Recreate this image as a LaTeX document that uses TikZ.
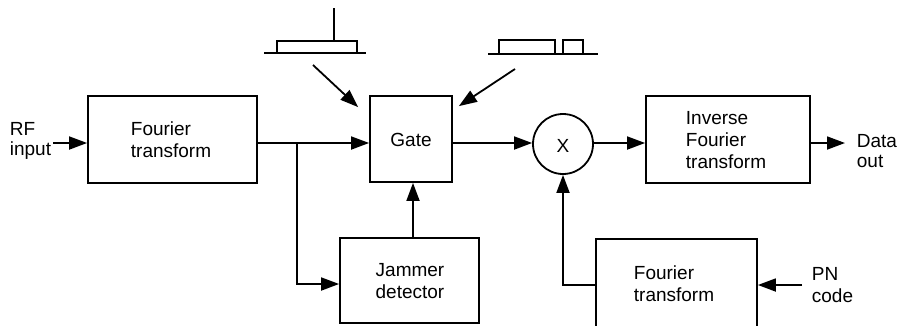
\documentclass[tikz,border=0pt]{standalone}
\usepackage{fontspec}
\setmainfont{Liberation Sans}
\usetikzlibrary{arrows.meta,calc}
\begin{document}
\begin{tikzpicture}[x=1pt,y=-1pt,
  line width=1.8pt,
  >={Triangle[length=18pt,width=13pt]},
  box/.style={draw, line width=1.8pt, inner sep=0pt, rectangle},
  lbl/.style={font=\fontsize{19}{22}\selectfont, align=left, inner sep=0pt},
  conn/.style={->, line width=1.8pt},
  sym/.style={line width=1.6pt}]
\useasboundingbox (0,0) rectangle (898,325);
\clip (0,0) rectangle (898,325);
\coordinate (m) at (0,143);
\coordinate (lo) at (0,285);
% boxes
\node[box, minimum width=169pt, minimum height=87pt] (ft1) at (172.5,139.5) {};
\node[box, minimum width=82pt, minimum height=86pt] (gate) at (411,139) {};
\node[box, minimum width=139pt, minimum height=85pt] (jam) at (409.5,280.5) {};
\node[draw, circle, line width=1.8pt, minimum size=60pt, inner sep=0pt] (mult) at (563,144) {};
\node[box, minimum width=164pt, minimum height=87pt] (ift) at (728,139.5) {};
\node[box, minimum width=161pt, minimum height=110pt] (ft2) at (676.5,294) {};
% texts
\node[lbl, anchor=west] (t1) at (130,139.5) {Fourier\\transform};
\node[lbl] (tg) at (411,140) {Gate};
\node[lbl, align=center] (tj) at (410,281) {Jammer\\detector};
\node[lbl] (tx) at (563,146) {X};
\node[lbl, anchor=west] (ti) at (685,140) {Inverse\\Fourier\\transform};
\node[lbl, anchor=west] (t2) at (633,284) {Fourier\\transform};
\node[lbl, anchor=west, font=\fontsize{19}{20}\selectfont] (trf) at (9,141) {RF\\input};
\node[lbl, anchor=west, font=\fontsize{19}{20}\selectfont] (tdo) at (856,151) {Data\\out};
\node[lbl, anchor=west] (tpn) at (811,285) {PN\\code};
% connectors
\coordinate (rfin) at (53,143);
\coordinate (dout) at (845,143);
\coordinate (pnin) at (802,285);
\coordinate (br) at (297,143);
\draw[conn] (rfin) -- (ft1.west |- m);
\draw[conn] (ft1.east |- m) -- (gate.west |- m);
\draw[conn] (br) |- (jam.west |- 0,284);
\draw[conn] (jam.north -| 413,0) -- (gate.south -| 413,0);
\draw[conn] (gate.east |- m) -- (mult.west |- m);
\draw[conn] (mult.east |- m) -- (ift.west |- m);
\draw[conn] (ift.east |- m) -- (dout);
\draw[conn] (ft2.west |- lo) -| (mult.south);
\draw[conn] (pnin) -- (ft2.east |- lo);
% top symbols
\coordinate (s1a) at (313,65);
\coordinate (s2a) at (515,69);
\draw[sym] (264,53) -- (366,53);
\draw[sym] (277,41) rectangle (357,53);
\draw[sym] (334,8) -- (334,41);
\draw[sym] (488,54) -- (598,54);
\draw[sym] (499,40) rectangle (555,54);
\draw[sym] (563,40) rectangle (583,54);
\draw[conn] (s1a) -- ($(gate.north west)+(-11,12)$);
\draw[conn] (s2a) -- ($(gate.north east)+(6,11)$);
\end{tikzpicture}
\end{document}
